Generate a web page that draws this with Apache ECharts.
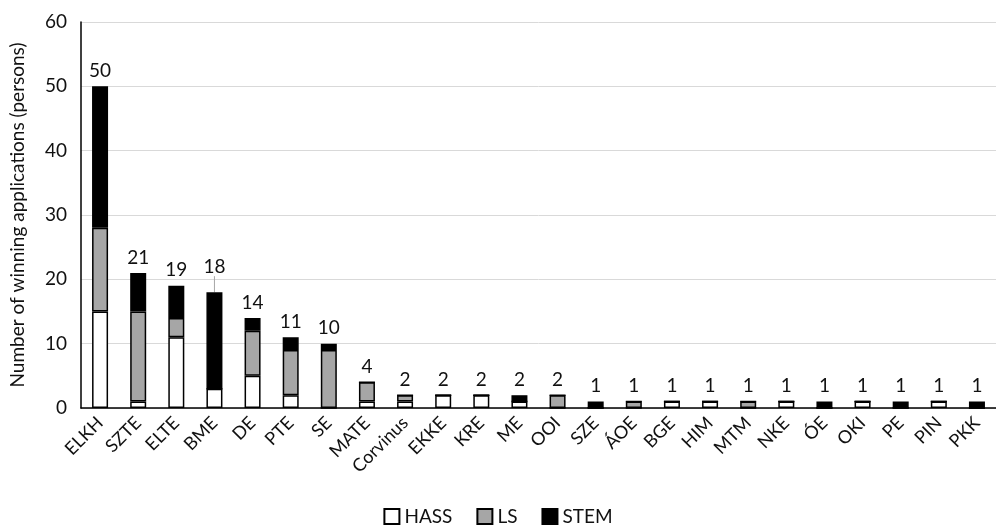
<!DOCTYPE html>
<html><head><meta charset="utf-8">
<script src="https://cdn.jsdelivr.net/npm/echarts@6/dist/echarts.min.js"></script>
<style>html,body{margin:0;padding:0;background:#fff}#c{width:996px;height:531px}</style>
</head><body><div id="c"></div>
<script>
const categories = ['ELKH','SZTE','ELTE','BME','DE','PTE','SE','MATE','Corvinus','EKKE','KRE','ME','OOI','SZE','ÁOE','BGE','HIM','MTM','NKE','ÓE','OKI','PE','PIN','PKK'];
const hass = [15,1,11,3,5,2,0,1,1,2,2,1,0,0,0,1,1,0,1,0,1,0,1,0];
const ls   = [13,14,3,0,7,7,9,3,1,0,0,0,2,0,1,0,0,1,0,0,0,0,0,0];
const stem = [22,6,5,15,2,2,1,0,0,0,0,1,0,1,0,0,0,0,0,1,0,1,0,1];
const totals = categories.map((c,i)=>hass[i]+ls[i]+stem[i]);
const yTicks = [0,10,20,30,40,50,60];

const font = 'Lato, "Open Sans", sans-serif';
const txt = '#111111';
const chart = echarts.init(document.getElementById('c'));
function bar(name, data, color){
  return {name, data, type:'bar', stack:'t', barWidth:16, z:3,
    itemStyle:{color, borderColor:'#000', borderWidth:1.5}};
}
const leaderIdx = 3; // BME label raised with leader line, as in reference
const totalData = totals.map((v,i)=> i===leaderIdx
  ? {value:v, labelLine:{show:true, lineStyle:{color:'#a6a6a6', width:1}}}
  : v);
chart.setOption({
  animation:false,
  grid:{left:78, right:-11, top:22, bottom:123},
  legend:{bottom:0, left:'center', data:['HASS','LS','STEM'], icon:'rect', itemWidth:15, itemHeight:15, itemGap:24,
    textStyle:{fontFamily:font, fontSize:19, color:txt}},
  xAxis:{type:'category', data:categories,
    axisLine:{lineStyle:{color:'#000', width:1.5}}, axisTick:{show:false},
    axisLabel:{rotate:45, interval:0, fontFamily:font, fontSize:18, color:txt, margin:12}},
  yAxis:{type:'value', min:yTicks[0], max:yTicks[yTicks.length-1], interval:10,
    name:'Number of winning applications (persons)', nameLocation:'middle', nameGap:54, nameRotate:90,
    nameTextStyle:{fontFamily:font, fontSize:19, color:txt},
    axisLine:{show:true, lineStyle:{color:'#000', width:1.5}}, axisTick:{show:false},
    axisLabel:{fontFamily:font, fontSize:19, color:txt, margin:14},
    splitLine:{lineStyle:{color:'#d9d9d9', width:1}}},
  series:[
    bar('HASS', hass, '#ffffff'),
    bar('LS', ls, '#a6a6a6'),
    bar('STEM', stem, '#000000'),
    {name:'Total', type:'bar', data:totalData, barWidth:16, barGap:'-100%', z:1, silent:true,
     itemStyle:{color:'rgba(0,0,0,0)'},
     label:{show:true, position:'top', distance:6, fontFamily:font, fontSize:19, color:txt},
     labelLayout:function(p){ return p.dataIndex===leaderIdx ? {dy:-10} : {}; }}
  ]
});
</script></body></html>
